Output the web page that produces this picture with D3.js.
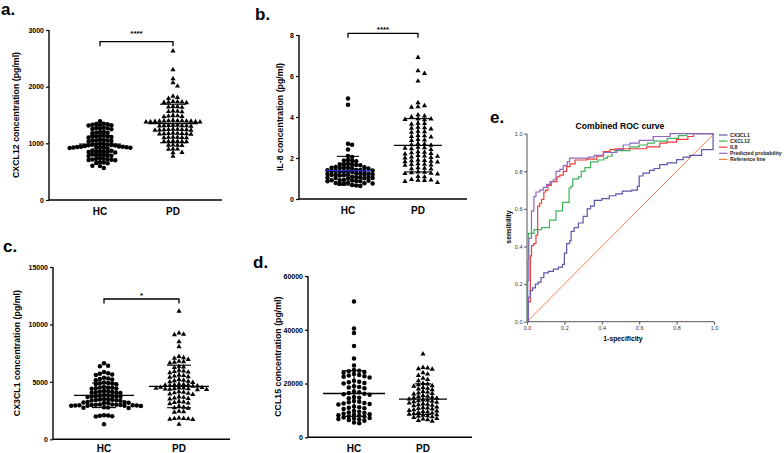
<!DOCTYPE html>
<html><head><meta charset="utf-8">
<script src="https://cdn.jsdelivr.net/npm/d3@7"></script>
<style>body{margin:0;background:#fff}svg{display:block}text{font-family:"Liberation Sans",Arial,sans-serif}</style>
</head><body><svg id="c" width="784" height="453"></svg>
<script>
// ---------------- data ----------------
const groups = ["HC", "PD"];

const cxcl12HC = [1390,1345,1340,1335,1330,1325,1320,1315,1275,1270,1265,1260,1255,1250,1200,1195,1190,1185,1180,
 1135,1130,1125,1120,1115,1110,1105,1065,1060,1055,1050,1045,1040,1035,995,990,985,980,975,970,965,960,955,
 945,940,938,935,932,930,928,925,922,920,918,915,875,870,865,860,855,850,845,840,805,800,795,790,785,780,775,
 735,730,725,720,715,710,705,700,665,660,655,650,605,600,565];
const cxcl12PD = [2630,2300,2140,2070,2010,1830,1810,1790,1740,1735,1730,1725,1720,1715,1650,1645,1640,1635,
 1570,1565,1560,1555,1490,1485,1480,1475,1470,1405,1400,1400,1398,1395,1392,1390,1388,1385,1382,1380,1378,1375,
 1320,1318,1315,1312,1310,1308,1305,1302,1250,1248,1245,1242,1240,1238,1235,1232,1230,1180,1178,1175,1172,1170,
 1168,1165,1162,1110,1108,1105,1102,1100,1098,1040,1038,1035,1032,1030,1028,970,968,965,962,900,898,895,840,835,770];
const cxcl12Mean = [985, 1350];
const cxcl12SD = [155, 340];

const il8HC = [4.9,4.6,2.7,2.65,2.42,2.1,2.05,1.9,1.88,1.86,1.84,1.72,1.7,1.69,1.68,1.66,1.65,
 1.56,1.55,1.54,1.53,1.52,1.51,1.5,1.49,1.42,1.41,1.4,1.39,1.38,1.37,1.36,1.35,1.34,1.33,1.32,
 1.25,1.24,1.23,1.22,1.21,1.2,1.19,1.18,1.17,1.16,1.15,1.08,1.07,1.06,1.05,1.04,1.03,1.02,1.01,1.0,
 0.93,0.92,0.91,0.9,0.89,0.88,0.87,0.86,0.79,0.78,0.77,0.76,0.75,0.74,0.68,0.66,0.64];
const il8PD = [6.9,6.25,6.12,5.75,4.7,4.55,4.5,4.48,4.1,4.05,4.0,3.92,3.9,3.88,3.86,3.7,3.68,3.65,
 3.5,3.48,3.45,3.42,3.3,3.28,3.25,3.1,3.08,3.05,3.02,2.9,2.88,2.85,2.7,2.68,2.65,2.62,
 2.52,2.5,2.48,2.45,2.42,2.3,2.28,2.25,2.22,2.2,2.12,2.1,2.08,2.05,2.02,2.0,1.9,1.88,1.86,1.84,1.82,1.8,
 1.72,1.7,1.68,1.66,1.64,1.52,1.5,1.48,1.46,1.32,1.3,1.28,1.26,1.24,1.22,1.1,1.08,0.95,0.93,0.92,0.9,0.85,0.8];
const il8Mean = [1.38, 2.62];
const il8SD = [0.7, 1.3];

const cx3cl1HC = [6620,6400,6350,5850,5750,5700,5650,5600,5350,5300,5250,5200,5150,4950,4900,4880,4850,4820,4800,
 4550,4520,4500,4480,4450,4420,4400,4200,4180,4150,4120,4100,4080,4050,4020,3850,3830,3800,3780,3760,3740,3720,3700,3680,
 3500,3480,3460,3440,3420,3400,3380,3360,3250,3230,3210,3190,3170,3150,
 3030,3020,3010,3000,2990,2980,2970,2960,2950,2940,2930,2920,2910,2900,2780,2760,2740,2720,
 2100,2080,2050,2000,1980,1300];
const cx3cl1PD = [11150,9250,9150,9100,8500,8050,7200,7100,7050,6950,6800,6750,6700,6650,6350,6300,6250,
 6000,5950,5900,5850,5800,5600,5550,5500,5450,5400,5200,5150,5100,5050,5000,4950,
 4800,4780,4750,4720,4700,4680,4650,4620,4520,4500,4480,4460,4440,4420,4400,4380,4360,4340,4320,
 4150,4100,4050,4000,3950,3900,3700,3650,3600,3550,3500,3300,3250,3200,3150,3100,
 2850,2800,2750,2700,2450,2400,2350,1850,1820,1800,1780,1750,1720,1300];
const cx3cl1Mean = [3830, 4600];
const cx3cl1SD = [1070, 1850];

const ccl15HC = [50500,40500,38800,34000,29300,26700,25000,24800,24600,24300,24000,23500,23200,23000,22700,22500,22200,
 21000,20700,20500,20200,20000,19000,18700,18500,18200,17000,16800,16500,16200,16000,15800,15000,14700,14500,
 13500,13200,13000,12800,12600,12400,12200,11500,11200,11000,10800,10500,9800,9500,9200,9000,
 8800,8600,8400,8200,8000,7800,7600,7400,7200,7000,6800,6600,6400,6200,5500,5200];
const ccl15PD = [31000,26000,25800,25500,25300,24000,23500,23000,22000,21500,21000,20000,19800,19500,19200,19000,
 18500,18200,18000,17700,17000,16800,16500,16300,16100,15500,15300,15100,14900,14700,14500,
 14200,14000,13800,13600,13400,13200,13000,12800,12500,12300,12100,11900,11700,11300,11100,10900,10700,10500,
 10200,10000,9800,9600,9400,9200,9000,8800,8600,8400,8200,8000,7800,7600,7400,7000,6800,6500,6200,6000];
const ccl15Mean = [16300, 14200];
const ccl15SD = [8500, 5700];

const yTicksA = [0,1000,2000,3000];
const yTicksB = [0,2,4,6,8];
const yTicksC = [0,5000,10000,15000];
const yTicksD = [0,20000,40000,60000];
const sigLabels = ["****", "****", "*", null];

// ROC (1-specificity, sensitivity) step points
const rocCX3CL1 = [[0,0],[0.007,0.13],[0.018,0.165],[0.03,0.18],[0.045,0.2],[0.06,0.21],[0.075,0.235],[0.09,0.26],
 [0.114,0.268],[0.141,0.28],[0.168,0.29],[0.19,0.305],[0.2,0.365],[0.212,0.415],[0.228,0.43],[0.236,0.48],[0.252,0.5],
 [0.275,0.525],[0.3,0.56],[0.322,0.6],[0.34,0.615],[0.36,0.645],[0.4,0.655],[0.44,0.67],[0.475,0.68],[0.51,0.695],
 [0.56,0.70],[0.59,0.72],[0.6,0.775],[0.62,0.79],[0.655,0.805],[0.68,0.815],[0.71,0.835],[0.75,0.845],[0.8,0.862],
 [0.835,0.875],[0.87,0.885],[0.934,0.915],[0.995,1.0],[1,1]];
const rocCXCL12 = [[0,0],[0.002,0.22],[0.004,0.33],[0.007,0.47],[0.038,0.49],[0.078,0.5],[0.12,0.54],[0.155,0.59],
 [0.19,0.635],[0.225,0.71],[0.235,0.72],[0.245,0.76],[0.275,0.77],[0.29,0.8],[0.31,0.82],[0.34,0.85],[0.38,0.86],
 [0.41,0.87],[0.43,0.88],[0.455,0.9],[0.47,0.91],[0.55,0.93],[0.6,0.94],[0.645,0.95],[0.68,0.96],[0.75,0.975],
 [0.81,0.99],[0.854,1.0],[1,1]];
const rocIL8 = [[0,0],[0.005,0.105],[0.018,0.35],[0.024,0.405],[0.036,0.415],[0.048,0.46],[0.057,0.615],[0.068,0.63],
 [0.078,0.65],[0.09,0.69],[0.1,0.7],[0.112,0.725],[0.13,0.745],[0.16,0.77],[0.176,0.78],[0.194,0.8],[0.212,0.825],
 [0.23,0.84],[0.257,0.86],[0.32,0.865],[0.373,0.88],[0.408,0.905],[0.444,0.915],[0.47,0.92],[0.62,0.92],[0.64,0.93],
 [0.71,0.95],[0.75,0.955],[0.8,0.97],[0.86,0.985],[0.89,1.0],[1,1]];
const rocPred = [[0,0],[0.004,0.22],[0.01,0.445],[0.024,0.59],[0.037,0.665],[0.048,0.69],[0.068,0.70],[0.087,0.715],
 [0.105,0.73],[0.123,0.745],[0.141,0.755],[0.155,0.80],[0.176,0.81],[0.194,0.83],[0.215,0.85],[0.228,0.87],
 [0.33,0.875],[0.36,0.885],[0.41,0.90],[0.48,0.915],[0.515,0.94],[0.55,0.95],[0.6,0.965],[0.675,0.985],[0.765,1.0],[1,1]];
const rocRef = [[0,0],[1,1]];
const rocNames = ["CX3CL1","CXCL12","IL8","Predicted probability","Reference line"];
const rocColors = ["#5a56a8","#3fb45c","#ef3d3d","#8e66c2","#f47f4e"];

// ---------------- drawing ----------------
const svg = d3.select("#c");
const F = '"Liberation Sans", Arial, sans-serif';

const panels = [
 {letter:"a.", lx:1, ly:15, title:"CXCL12 concentration (pg/ml)", tx:16, x0:49, x1:222, yb:200, yt:30, ticks:yTicksA,
  cx:[100,173], data:[cxcl12HC,cxcl12PD], mean:cxcl12Mean, sd:cxcl12SD, medW:[21,25], capW:[10,13], dx:[3.8,4.5], by:41.7, sy:35.5, sig:sigLabels[0]},
 {letter:"b.", lx:255, ly:20, title:"IL-8 concentration (pg/ml)", tx:280, x0:299, x1:467, yb:199, yt:35, ticks:yTicksB,
  cx:[348,418], data:[il8HC,il8PD], mean:il8Mean, sd:il8SD, medW:[23,24], capW:[11,12], dx:[4.1,6.5], by:33.3, sy:32, sig:sigLabels[1], blue:true},
 {letter:"c.", lx:3, ly:252, title:"CX3CL1 concentration (pg/ml)", tx:16.5, x0:53, x1:230, yb:439.3, yt:267, ticks:yTicksC,
  cx:[104,179], data:[cx3cl1HC,cx3cl1PD], mean:cx3cl1Mean, sd:cx3cl1SD, medW:[30,30], capW:[12,12], dx:[4.1,4.6], by:299, sy:298, sig:sigLabels[2]},
 {letter:"d.", lx:253, ly:268, title:"CCL15 concentration (pg/ml)", tx:278, x0:308, x1:472, yb:437.3, yt:276, ticks:yTicksD,
  cx:[354,423], data:[ccl15HC,ccl15PD], mean:ccl15Mean, sd:ccl15SD, medW:[31,24], capW:[12,8], dx:[5.2,4.6], by:null, sig:sigLabels[3]}
];

function swarm(values, y, cx, dx, dy) {
  const placed = [];
  const sorted = values.slice().sort((a,b)=>b-a);
  for (const v of sorted) {
    const py = y(v);
    let off = 0;
    for (let k = 0; k < 60; k++) {
      const cand = k === 0 ? 0 : (k % 2 === 1 ? 1 : -1) * Math.ceil(k/2) * dx;
      const hit = placed.some(p => Math.abs(p.y - py) < dy && Math.abs(p.off - cand) < dx*0.99);
      if (!hit) { off = cand; break; }
    }
    placed.push({v, y: py, off, x: cx + off});
  }
  return placed;
}

panels.forEach(p => {
  const g = svg.append("g");
  const y = d3.scaleLinear([0, d3.max(p.ticks)], [p.yb, p.yt]);
  const x = d3.scalePoint(groups, p.cx);
  g.append("text").attr("x", p.lx).attr("y", p.ly).attr("font-size", 17).attr("font-weight", "bold").text(p.letter);
  const ax = g.append("g").attr("transform", `translate(${p.x0},0)`)
    .call(d3.axisLeft(y).tickValues(p.ticks).tickSize(3).tickPadding(2).tickFormat(d3.format("d")));
  ax.select(".domain").attr("stroke-width", 1.4).attr("d", `M0,${p.yt}V${p.yb}`);
  ax.selectAll(".tick line").attr("stroke-width", 1.2);
  ax.selectAll("text").attr("font-size", 7).attr("font-weight", "bold").attr("font-family", F);
  g.append("line").attr("x1", p.x0).attr("x2", p.x1).attr("y1", p.yb).attr("y2", p.yb).attr("stroke", "#000").attr("stroke-width", 1.4);
  groups.forEach(gr => {
    g.append("text").attr("x", x(gr)).attr("y", Math.min(p.yb + 15, 451.5)).attr("text-anchor", "middle")
      .attr("font-size", 10).attr("font-weight", "bold").text(gr);
  });
  g.append("text").attr("transform", `translate(${p.tx},${(p.yt+p.yb)/2}) rotate(-90)`)
    .attr("text-anchor", "middle").attr("dominant-baseline", "central")
    .attr("font-size", 8.8).attr("font-weight", "bold").text(p.title);
  p.data.forEach((vals, i) => {
    const pts = swarm(vals, y, x(groups[i]), p.dx[i], 3.6);
    if (i === 0) {
      g.selectAll(null).data(pts).join("circle").attr("cx", d => d.x).attr("cy", d => d.y).attr("r", 2.25).attr("fill", "#000");
    } else {
      const tri = d3.symbol(d3.symbolTriangle, 11.5);
      g.selectAll(null).data(pts).join("path").attr("d", tri).attr("transform", d => `translate(${d.x},${d.y})`).attr("fill", "#000");
    }
  });
  groups.forEach((gr, i) => {
    const c = x(gr), m = p.mean[i], s = p.sd[i];
    const col = (p.blue && i === 0) ? "#2230d8" : "#000";
    g.append("line").attr("x1", c).attr("x2", c).attr("y1", y(m - s)).attr("y2", y(m + s)).attr("stroke", "#000").attr("stroke-width", 1.1);
    [m - s, m + s].forEach(v => g.append("line").attr("x1", c - p.capW[i]).attr("x2", c + p.capW[i]).attr("y1", y(v)).attr("y2", y(v)).attr("stroke", "#000").attr("stroke-width", 1.1));
    g.append("line").attr("x1", c - p.medW[i]).attr("x2", c + p.medW[i]).attr("y1", y(m)).attr("y2", y(m)).attr("stroke", col).attr("stroke-width", 1.3);
  });
  if (p.sig) {
    const a = x("HC"), b = x("PD");
    g.append("path").attr("d", `M${a},${p.by+4.5}V${p.by}H${b}V${p.by+4.5}`).attr("fill", "none").attr("stroke", "#000").attr("stroke-width", 1.3);
    g.append("text").attr("x", (a+b)/2).attr("y", p.sy).attr("text-anchor", "middle").attr("font-size", 8).attr("font-weight", "bold").text(p.sig);
  }
});

// ---------------- panel e: ROC ----------------
const ge = svg.append("g");
ge.append("text").attr("x", 490).attr("y", 123).attr("font-size", 17).attr("font-weight", "bold").text("e.");
const ex = d3.scaleLinear([0,1],[527,714]);
const ey = d3.scaleLinear([0,1],[321.7,133.7]);
const axL = ge.append("g").attr("transform", "translate(527,0)")
  .call(d3.axisLeft(ey).tickValues([0,0.2,0.4,0.6,0.8,1]).tickFormat(d3.format(".1f")).tickSize(3).tickPadding(1.5));
const axB = ge.append("g").attr("transform", "translate(0,321.7)")
  .call(d3.axisBottom(ex).tickValues([0,0.2,0.4,0.6,0.8,1]).tickFormat(d3.format(".1f")).tickSize(3).tickPadding(1.5));
[axL, axB].forEach(a => {
  a.select(".domain").attr("stroke", "#555").attr("stroke-width", 1);
  a.selectAll(".tick line").attr("stroke", "#555");
  a.selectAll("text").attr("font-size", 5.5).attr("font-family", F).attr("fill", "#333");
});
axL.select(".domain").attr("d", "M0,321.7V133.7");
axB.select(".domain").attr("d", "M527,0H714");
const rocLine = d3.line().x(d => ex(d[0])).y(d => ey(d[1])).curve(d3.curveStepAfter);
const rocSets = [rocCX3CL1, rocCXCL12, rocIL8, rocPred];
ge.append("path").attr("d", d3.line().x(d => ex(d[0])).y(d => ey(d[1]))(rocRef)).attr("fill","none").attr("stroke", rocColors[4]).attr("stroke-width", 1);
[1,2,0,3].forEach(i => {
  ge.append("path").attr("d", rocLine(rocSets[i])).attr("fill", "none").attr("stroke", rocColors[i]).attr("stroke-width", 1.2);
});
ge.append("text").attr("x", 620).attr("y", 129).attr("text-anchor", "middle").attr("font-size", 8.6).attr("font-weight", "bold").text("Combined ROC curve");
ge.append("text").attr("transform", "translate(508,227) rotate(-90)").attr("text-anchor", "middle").attr("dominant-baseline", "central")
  .attr("font-size", 6.8).attr("font-weight", "bold").text("sensibility");
ge.append("text").attr("x", 623).attr("y", 341).attr("text-anchor", "middle").attr("font-size", 6.8).attr("font-weight", "bold").text("1-specificity");
rocNames.forEach((n, i) => {
  const ly = 135 + i * 6.1;
  ge.append("line").attr("x1", 719).attr("x2", 727.5).attr("y1", ly).attr("y2", ly).attr("stroke", rocColors[i]).attr("stroke-width", 1.2);
  ge.append("text").attr("x", 730).attr("y", ly).attr("dominant-baseline", "central").attr("font-size", 5.2).attr("font-weight", "bold").attr("fill", "#222").text(n);
});
</script></body></html>
